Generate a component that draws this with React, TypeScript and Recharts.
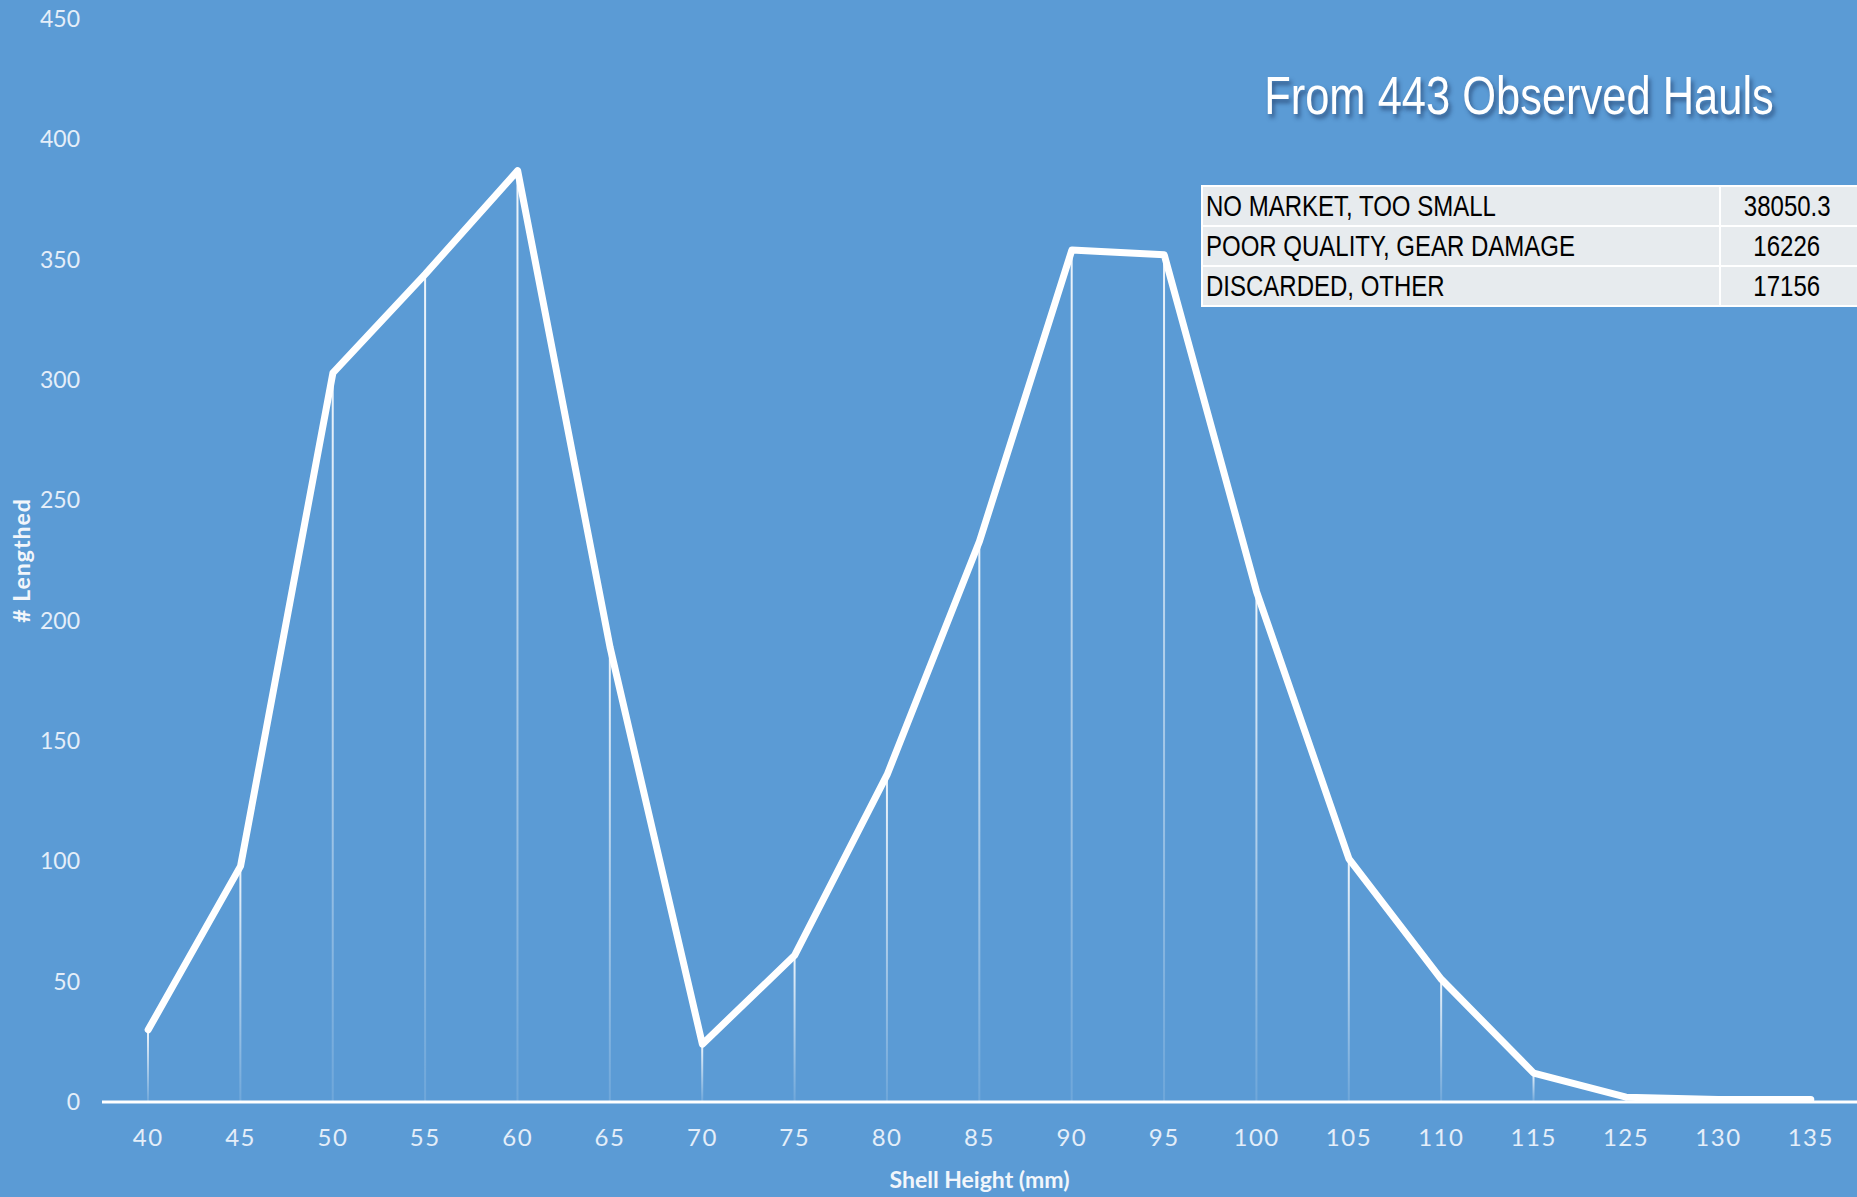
import React from 'react';
import { ComposedChart, Line, Bar, XAxis, YAxis } from 'recharts';

const shellHeights = ['40', '45', '50', '55', '60', '65', '70', '75', '80', '85', '90', '95', '100', '105', '110', '115', '125', '130', '135'];
const lengthedCounts = [30, 98, 303, 344, 387, 189, 24, 61, 136, 233, 354, 352, 212, 101, 51, 12, 2, 1, 1];
const yTicks = [0, 50, 100, 150, 200, 250, 300, 350, 400, 450];

const discardReasons = ['NO MARKET, TOO SMALL', 'POOR QUALITY, GEAR DAMAGE', 'DISCARDED, OTHER'];
const discardValues = ['38050.3', '16226', '17156'];

const chartTitle = 'From 443 Observed Hauls';

const data = shellHeights.map((h, i) => ({ height: h, count: lengthedCounts[i] }));

const BG = '#5b9bd5';
const TICK = '#e4eef9';
const SANS = "'Liberation Sans', Arial, sans-serif";

// no narrow font installed, so squeeze Liberation Sans instead
const narrow = (origin: string): React.CSSProperties => ({
  display: 'inline-block',
  transform: 'scaleX(0.8)',
  transformOrigin: origin,
  whiteSpace: 'nowrap',
});

export default function App() {
  return (
    <div style={{ position: 'absolute', left: 0, top: 0, width: 1857, height: 1197, background: BG, overflow: 'hidden' }}>
      <ComposedChart width={1857} height={1197} data={data} margin={{ top: 19, right: 0, bottom: 0, left: 0 }}>
        <defs>
          <linearGradient id="dropFade" x1="0" y1="0" x2="0" y2="1">
            <stop offset="0%" stopColor="#ffffff" stopOpacity={0.9} />
            <stop offset="100%" stopColor="#ffffff" stopOpacity={0.12} />
          </linearGradient>
        </defs>
        <XAxis
          dataKey="height"
          interval={0}
          height={95}
          tickSize={0}
          tickMargin={27}
          axisLine={{ stroke: '#ffffff', strokeWidth: 3 }}
          tick={{ fill: TICK, fontSize: 24, fontFamily: 'Lato, sans-serif', letterSpacing: 1.5 }}
          label={{
            value: 'Shell Height (mm)',
            position: 'insideBottom',
            offset: 9,
            fill: '#f2f6fb',
            fontSize: 23,
            fontWeight: 700,
            fontFamily: 'Lato, sans-serif',
          }}
        />
        <YAxis
          domain={[0, 450]}
          ticks={yTicks}
          width={102}
          tickSize={0}
          tickMargin={22}
          axisLine={false}
          tickLine={false}
          tick={{ fill: TICK, fontSize: 23, fontFamily: 'Lato, sans-serif' }}
          label={{
            content: (props: any) => {
              const vb = props.viewBox || { x: 0, y: 19, height: 1083 };
              const cx = 21;
              const cy = vb.y + vb.height / 2;
              return (
                <text
                  x={cx}
                  y={cy}
                  transform={`rotate(-90 ${cx} ${cy})`}
                  textAnchor="middle"
                  dominantBaseline="central"
                  fill="#f2f6fb"
                  fontSize={23}
                  fontWeight={700}
                  letterSpacing={1}
                  fontFamily="Lato, sans-serif"
                >
                  # Lengthed
                </text>
              );
            },
          }}
        />
        <Bar dataKey="count" barSize={2} fill="url(#dropFade)" isAnimationActive={false} />
        <Line
          type="linear"
          dataKey="count"
          stroke="#ffffff"
          strokeWidth={7}
          strokeLinejoin="round"
          strokeLinecap="round"
          dot={false}
          activeDot={false}
          isAnimationActive={false}
        />
      </ComposedChart>

      <div
        style={{
          position: 'absolute',
          left: 1519,
          top: 95,
          transform: 'translate(-50%, -50%) scaleX(0.82)',
          whiteSpace: 'nowrap',
          color: '#ffffff',
          fontFamily: SANS,
          fontSize: 53,
          textShadow: '3px 4px 5px rgba(20, 40, 80, 0.55)',
        }}
      >
        {chartTitle}
      </div>

      <table
        style={{
          position: 'absolute',
          left: 1201,
          top: 185,
          width: 660,
          borderCollapse: 'collapse',
          fontFamily: SANS,
          fontSize: 30,
          color: '#000000',
        }}
      >
        <tbody>
          {discardReasons.map((reason, i) => (
            <tr key={reason} style={{ height: 40, background: '#e7ebee' }}>
              <td style={{ border: '2px solid #ffffff', padding: '0 0 0 3px', width: 513, lineHeight: '36px' }}>
                <span style={narrow('left center')}>{reason}</span>
              </td>
              <td style={{ border: '2px solid #ffffff', padding: '0 6px 0 0', textAlign: 'center', lineHeight: '36px' }}>
                <span style={narrow('center center')}>{discardValues[i]}</span>
              </td>
            </tr>
          ))}
        </tbody>
      </table>
    </div>
  );
}
